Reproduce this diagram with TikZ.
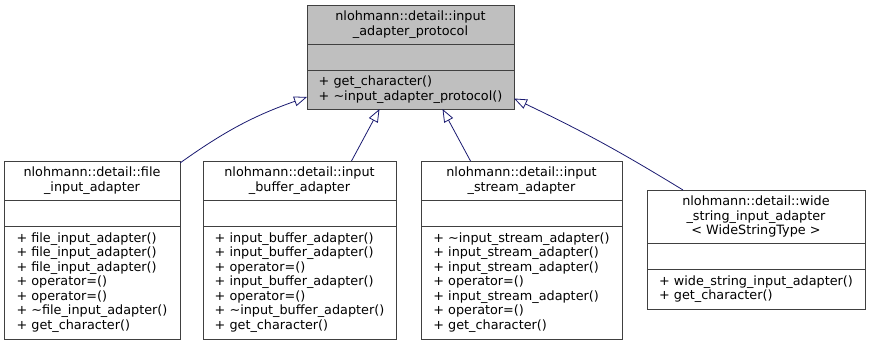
\documentclass[tikz,border=0pt]{standalone}
\usepackage{fontspec}
\setmainfont{DejaVu Sans}
\usepackage{tikz}
\usetikzlibrary{shapes,arrows}
\usetikzlibrary{positioning}
\usetikzlibrary{arrows.meta}
\tikzset{>=stealth}
\definecolor{edgeblue}{RGB}{25,25,112}
\tikzstyle{umlpart} = [draw=black!75,
line width=0.8pt,
inner xsep=4pt, inner ysep=0pt, outer sep=0pt,
font=\fontsize{12.8}{14.5}\selectfont]
\tikzstyle{line} = [draw,
-{Triangle[open, length=13pt, width=10pt]},
color=edgeblue, line width=0.8pt]

\begin{document}
\begin{tikzpicture}[x=1pt, y=-1pt,
	head/.style={umlpart, align=center, minimum height=39pt},
	attrs/.style={umlpart, minimum height=26pt},
	ops/.style={umlpart, align=left, minimum height=113pt}]
	\useasboundingbox (0,0) rectangle (871,345);
	%% Base class
	\node [head, fill=black!25, minimum width=207pt, anchor=north west] (BaseHead) at (307,5) {nlohmann::detail::input\\\_adapter\_protocol};
	\node [attrs, fill=black!25, minimum width=207pt, below=0pt of BaseHead] (BaseAttr) {};
	\node [ops, fill=black!25, minimum width=207pt, minimum height=39pt, below=0pt of BaseAttr] (BaseOps) {+ get\_character()\\+ \textasciitilde input\_adapter\_protocol()};
	%% Derived classes
	\node [head, minimum width=176pt, anchor=north west] (FileHead) at (4,161) {nlohmann::detail::file\\\_input\_adapter};
	\node [attrs, minimum width=176pt, below=0pt of FileHead] (FileAttr) {};
	\node [ops, minimum width=176pt, below=0pt of FileAttr] (FileOps) {+ file\_input\_adapter()\\+ file\_input\_adapter()\\+ file\_input\_adapter()\\+ operator=()\\+ operator=()\\+ \textasciitilde file\_input\_adapter()\\+ get\_character()};
	\node [head, minimum width=193pt, anchor=north west] (BufferHead) at (203,161) {nlohmann::detail::input\\\_buffer\_adapter};
	\node [attrs, minimum width=193pt, below=0pt of BufferHead] (BufferAttr) {};
	\node [ops, minimum width=193pt, below=0pt of BufferAttr] (BufferOps) {+ input\_buffer\_adapter()\\+ input\_buffer\_adapter()\\+ operator=()\\+ input\_buffer\_adapter()\\+ operator=()\\+ \textasciitilde input\_buffer\_adapter()\\+ get\_character()};
	\node [head, minimum width=201pt, anchor=north west] (StreamHead) at (421,161) {nlohmann::detail::input\\\_stream\_adapter};
	\node [attrs, minimum width=201pt, below=0pt of StreamHead] (StreamAttr) {};
	\node [ops, minimum width=201pt, below=0pt of StreamAttr] (StreamOps) {+ \textasciitilde input\_stream\_adapter()\\+ input\_stream\_adapter()\\+ input\_stream\_adapter()\\+ operator=()\\+ input\_stream\_adapter()\\+ operator=()\\+ get\_character()};
	\node [head, minimum width=218pt, minimum height=53.5pt, anchor=north west] (WideHead) at (647,190) {nlohmann::detail::wide\\\_string\_input\_adapter\\< WideStringType >};
	\node [attrs, minimum width=218pt, below=0pt of WideHead] (WideAttr) {};
	\node [ops, minimum width=218pt, minimum height=39.5pt, below=0pt of WideAttr] (WideOps) {+ wide\_string\_input\_adapter()\\+ get\_character()};
	%% Inheritance
	\path [line] ([yshift=-2pt]FileHead.north east) to [bend left=8] ([yshift=-7.5pt]BaseOps.west);
	\path [line] ([xshift=52pt]BufferHead.north) -- ([xshift=-31pt]BaseOps.south);
	\path [line] ([xshift=-51pt]StreamHead.north) -- ([xshift=32pt]BaseOps.south);
	\path [line] ([xshift=-73pt]WideHead.north) to [bend right=3] ([yshift=-9pt]BaseOps.east);
\end{tikzpicture}
\end{document}
